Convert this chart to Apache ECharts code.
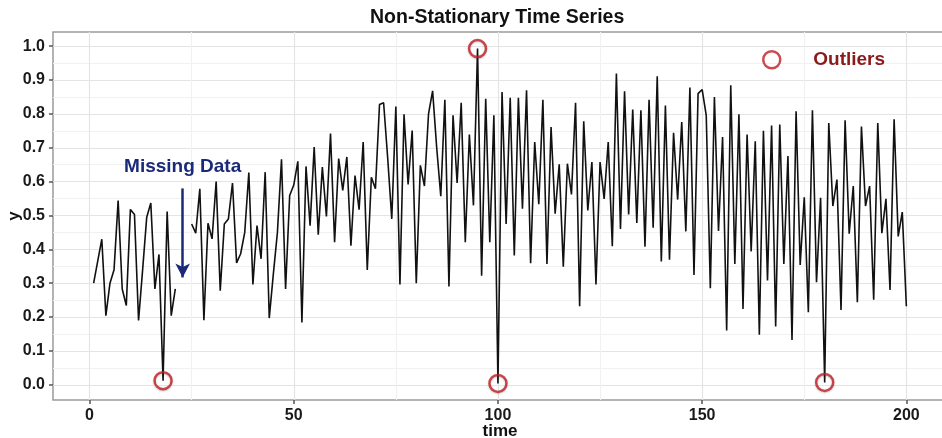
<!DOCTYPE html>
<html>
<head>
<meta charset="utf-8">
<script src="https://cdn.jsdelivr.net/npm/echarts@6/dist/echarts.min.js"></script>
<style>
    html, body { margin: 0; padding: 0; background: #fff; }
    #main { width: 942px; height: 438px; }
</style>
</head>
<body>
<div id="main"></div>
<script>
// y values for time 1..200, null = missing (22-24)
var yValues = [
    0.30, 0.365, 0.43, 0.204, 0.30, 0.34, 0.544, 0.283, 0.234, 0.518,
    0.503, 0.19, 0.34, 0.495, 0.537, 0.283, 0.385, 0.012, 0.512, 0.204,
    0.283, null, null, null, 0.475, 0.448, 0.579, 0.191, 0.477, 0.431,
    0.60, 0.278, 0.475, 0.49, 0.596, 0.36, 0.387, 0.45, 0.627, 0.296,
    0.47, 0.372, 0.628, 0.197, 0.327, 0.45, 0.666, 0.283, 0.559, 0.59,
    0.66, 0.184, 0.645, 0.47, 0.702, 0.443, 0.643, 0.497, 0.742, 0.421,
    0.668, 0.574, 0.673, 0.411, 0.618, 0.517, 0.717, 0.339, 0.613, 0.579,
    0.828, 0.833, 0.67, 0.49, 0.822, 0.296, 0.799, 0.592, 0.751, 0.30,
    0.648, 0.587, 0.80, 0.868, 0.70, 0.557, 0.842, 0.29, 0.796, 0.596,
    0.833, 0.421, 0.739, 0.53, 0.993, 0.322, 0.845, 0.421, 0.796, 0.004,
    0.865, 0.475, 0.848, 0.382, 0.848, 0.52, 0.87, 0.359, 0.717, 0.533,
    0.842, 0.357, 0.761, 0.505, 0.651, 0.349, 0.653, 0.562, 0.833, 0.232,
    0.778, 0.515, 0.658, 0.296, 0.658, 0.549, 0.717, 0.409, 0.919, 0.46,
    0.867, 0.503, 0.813, 0.478, 0.811, 0.408, 0.842, 0.464, 0.911, 0.364,
    0.825, 0.369, 0.744, 0.547, 0.776, 0.453, 0.878, 0.324, 0.86, 0.872,
    0.796, 0.285, 0.85, 0.454, 0.732, 0.16, 0.885, 0.357, 0.799, 0.224,
    0.739, 0.394, 0.719, 0.148, 0.75, 0.308, 0.766, 0.172, 0.769, 0.357,
    0.676, 0.132, 0.808, 0.354, 0.554, 0.214, 0.811, 0.303, 0.552, 0.007,
    0.773, 0.528, 0.606, 0.221, 0.781, 0.446, 0.587, 0.244, 0.763, 0.528,
    0.587, 0.251, 0.773, 0.448, 0.549, 0.28, 0.784, 0.438, 0.51, 0.232
];
var outlierTimes = [18, 95, 100, 180];
var xTicks = [0, 50, 100, 150, 200];
var xMinorTicks = [25, 75, 125, 175];
var yTicks = [0, 0.1, 0.2, 0.3, 0.4, 0.5, 0.6, 0.7, 0.8, 0.9, 1.0];
var yMinorTicks = [0.05, 0.15, 0.25, 0.35, 0.45, 0.55, 0.65, 0.75, 0.85, 0.95];

var lineData = yValues.map(function (v, i) {
    return [i + 1, v === null ? '-' : v];
});
var outlierData = outlierTimes.map(function (t) {
    return [t, yValues[t - 1]];
});

var font = 'Liberation Sans, Arial, Helvetica, sans-serif';
var outlierRed = '#bf1d24';
var navy = '#1b2a78';

var myChart = echarts.init(document.getElementById('main'));
var option = {
    animation: false,
    backgroundColor: '#fff',
    title: {
        text: 'Non-Stationary Time Series',
        left: 370,
        top: 8,
        padding: 0,
        textStyle: { fontFamily: font, fontSize: 19.5, fontWeight: 'bold', color: '#111' }
    },
    legend: {
        data: ['Outliers'],
        left: 762,
        top: 50,
        padding: 0,
        icon: 'circle',
        itemWidth: 17,
        itemHeight: 17,
        itemStyle: { color: 'rgba(0,0,0,0)', borderColor: outlierRed, borderWidth: 2.5 },
        textStyle: { fontFamily: font, fontSize: 19, fontWeight: 'bold', color: '#8b1a1a', padding: [0, 0, 0, 28] }
    },
    grid: {
        left: 53,
        right: -5,
        top: 32,
        bottom: 38,
        outerBoundsMode: 'none',
        containLabel: false,
        show: true,
        backgroundColor: '#fff',
        borderColor: '#9a9a9a',
        borderWidth: 1.5
    },
    xAxis: [{
        type: 'value',
        min: -8.95,
        max: 209.95,
        name: 'time',
        nameLocation: 'middle',
        nameGap: 23,
        nameMoveOverlap: false,
        nameTextStyle: { fontFamily: font, fontSize: 17, fontWeight: 'bold', color: '#111' },
        axisLine: { show: false, onZero: false },
        axisTick: { show: true, customValues: xTicks, length: 4, lineStyle: { color: '#555', width: 1.5 } },
        axisLabel: { customValues: xTicks, margin: 8, fontFamily: font, fontSize: 16, fontWeight: 'bold', color: '#1a1a1a' },
        splitLine: { show: true, lineStyle: { color: '#e4e4e4', width: 1.2 } }
    }, {
        type: 'value',
        position: 'top',
        min: -8.95,
        max: 209.95,
        axisLine: { show: false, onZero: false },
        axisTick: { show: false, customValues: xMinorTicks },
        axisLabel: { show: false, customValues: xMinorTicks },
        splitLine: { show: true, lineStyle: { color: '#f1f1f1', width: 1.2 } }
    }],
    yAxis: [{
        type: 'value',
        min: -0.045,
        max: 1.042,
        name: 'y',
        nameLocation: 'middle',
        nameGap: 30,
        nameRotate: 90,
        nameMoveOverlap: false,
        nameTextStyle: { fontFamily: font, fontSize: 17, fontWeight: 'bold', color: '#111' },
        axisLine: { show: false, onZero: false },
        axisTick: { show: true, customValues: yTicks, length: 4, lineStyle: { color: '#555', width: 1.5 } },
        axisLabel: {
            customValues: yTicks, margin: 8, fontFamily: font, fontSize: 16, fontWeight: 'bold', color: '#1a1a1a',
            formatter: function (v) { return v.toFixed(1); }
        },
        splitLine: { show: true, lineStyle: { color: '#e4e4e4', width: 1.2 } }
    }, {
        type: 'value',
        position: 'right',
        min: -0.045,
        max: 1.042,
        axisLine: { show: false, onZero: false },
        axisTick: { show: false, customValues: yMinorTicks },
        axisLabel: { show: false, customValues: yMinorTicks },
        splitLine: { show: true, lineStyle: { color: '#f1f1f1', width: 1.2 } }
    }],
    series: [
        {
            name: 'y',
            type: 'line',
            data: lineData,
            symbol: 'none',
            connectNulls: false,
            lineStyle: { color: '#111', width: 1.6 },
            z: 3,
            markLine: {
                silent: true,
                symbol: ['none', 'arrow'],
                symbolSize: [11, 14],
                lineStyle: { color: navy, width: 2.5, type: 'solid' },
                label: {
                    show: true,
                    position: 'start',
                    distance: 12,
                    formatter: 'Missing Data',
                    fontFamily: font,
                    fontSize: 19,
                    fontWeight: 'bold',
                    color: navy
                },
                data: [[{ coord: [22.8, 0.58] }, { coord: [22.8, 0.317] }]]
            }
        },
        {
            name: 'Outliers',
            type: 'scatter',
            data: outlierData,
            symbol: 'circle',
            symbolSize: 17,
            z: 4,
            itemStyle: {
                color: 'rgba(0,0,0,0)',
                borderColor: outlierRed,
                borderWidth: 2.5,
                shadowBlur: 2,
                shadowColor: 'rgba(0,0,0,0.25)',
                shadowOffsetY: 1
            }
        }
    ]
};
myChart.setOption(option);
</script>
</body>
</html>
